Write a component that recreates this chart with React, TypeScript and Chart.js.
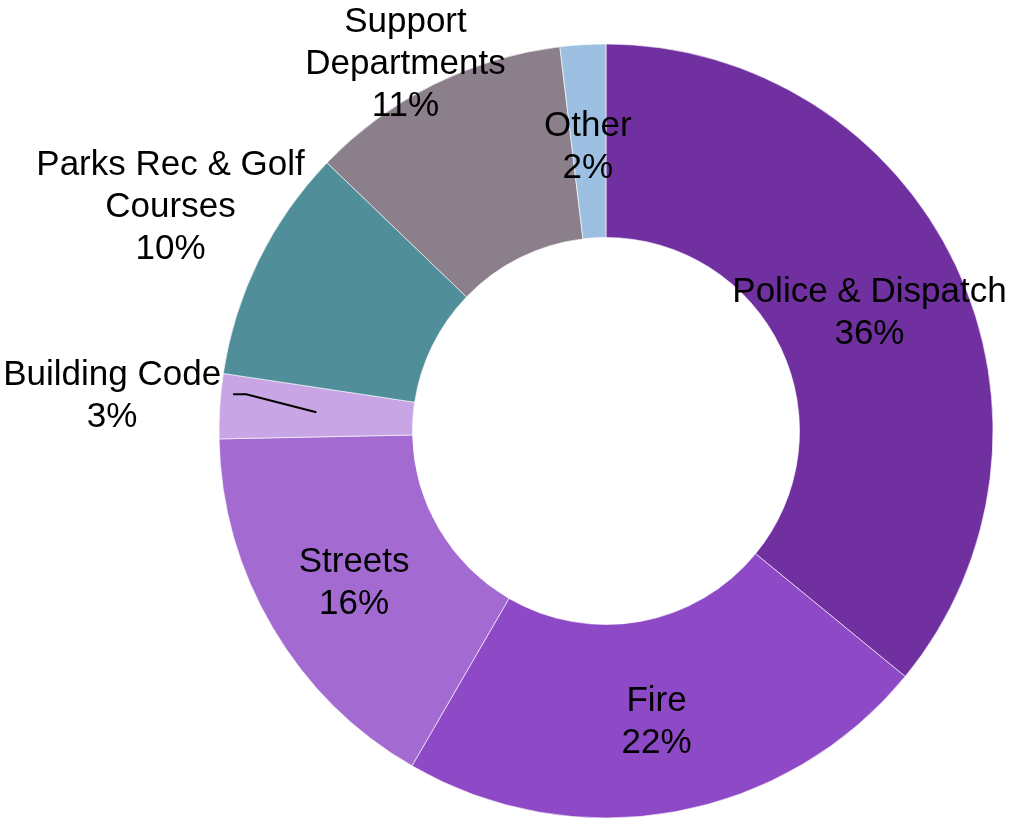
import React, { useEffect, useRef } from "react";
import { Chart, registerables } from "chart.js";

Chart.register(...registerables);

const categories = [
  "Police & Dispatch",
  "Fire",
  "Streets",
  "Building Code",
  "Parks Rec & Golf Courses",
  "Support Departments",
  "Other",
];
const shares = [35.9, 22.4, 16.3, 2.7, 9.8, 10.9, 1.9];
const labelLines = [
  ["Police & Dispatch"],
  ["Fire"],
  ["Streets"],
  ["Building Code"],
  ["Parks Rec & Golf", "Courses"],
  ["Support", "Departments"],
  ["Other"],
];
const sliceColors = [
  "#7030A0",
  "#8E49C6",
  "#A36BD1",
  "#C8A5E4",
  "#508F99",
  "#8B7F8C",
  "#9DBFE2",
];

// label placement: radius as fraction of outer radius, angle shift (deg), leader line
const labelRadius = [0.75, 0.755, 0.755, 1.28, 1.27, 1.09, 0.745];
const labelShiftDeg = [0.5, 0.3, 0.1, 0.8, 1.4, -1.9, -0.2];
const labelLeader = [false, false, false, true, false, false, false];

const FONT = '35px "Liberation Sans", Arial, sans-serif';
const LINE_H = 42;
const Y_NUDGE = 4;

const labelPlugin = {
  id: "sliceLabels",
  afterDatasetsDraw(chart: any) {
    const ctx = chart.ctx;
    const meta = chart.getDatasetMeta(0);
    const data = chart.data.datasets[0].data as number[];
    const total = data.reduce((a, b) => a + b, 0);
    ctx.save();
    ctx.font = FONT;
    ctx.fillStyle = "#000";
    ctx.textAlign = "center";
    ctx.textBaseline = "middle";
    meta.data.forEach((arc: any, i: number) => {
      const { x, y, startAngle, endAngle, outerRadius, innerRadius } = arc.getProps(
        ["x", "y", "startAngle", "endAngle", "outerRadius", "innerRadius"],
        true
      );
      const mid = (startAngle + endAngle) / 2;
      const ang = mid + (labelShiftDeg[i] * Math.PI) / 180;
      const r = outerRadius * labelRadius[i];
      const cx = x + Math.cos(ang) * r;
      const cy = y + Math.sin(ang) * r + Y_NUDGE;
      const lines = [...labelLines[i], Math.round((data[i] / total) * 100) + "%"];
      const h = lines.length * LINE_H;
      lines.forEach((t, k) => {
        ctx.fillText(t, cx, cy - h / 2 + LINE_H / 2 + k * LINE_H);
      });
      if (labelLeader[i]) {
        const w = Math.max(...lines.map((t) => ctx.measureText(t).width));
        const sx = x + Math.cos(mid) * (outerRadius + innerRadius) / 2;
        const sy = y + Math.sin(mid) * (outerRadius + innerRadius) / 2;
        const ex = cx + w / 2 + 12;
        const ey = cy - 2;
        ctx.beginPath();
        ctx.strokeStyle = "#000";
        ctx.lineWidth = 2;
        ctx.moveTo(ex, ey);
        ctx.lineTo(ex + 13, ey);
        ctx.lineTo(sx, sy);
        ctx.stroke();
      }
    });
    ctx.restore();
  },
};

export default function App() {
  const ref = useRef<HTMLCanvasElement | null>(null);
  useEffect(() => {
    if (!ref.current) return;
    const chart = new Chart(ref.current, {
      type: "doughnut",
      data: {
        labels: categories,
        datasets: [
          {
            data: shares,
            backgroundColor: sliceColors,
            borderColor: "rgba(255,255,255,0.6)",
            borderWidth: 1,
            hoverOffset: 0,
          },
        ],
      },
      options: {
        animation: false,
        responsive: false,
        maintainAspectRatio: false,
        cutout: "50%",
        layout: { padding: { left: 218.5, right: 15.5, top: 43.5, bottom: 2.5 } },
        plugins: {
          legend: { display: false },
          tooltip: { enabled: false },
        },
      },
      plugins: [labelPlugin],
    });
    return () => chart.destroy();
  }, []);
  return (
    <div style={{ position: "fixed", left: 0, top: 0, width: 1009, height: 821, background: "#fff" }}>
      <canvas ref={ref} width={1009} height={821} style={{ width: 1009, height: 821 }} />
    </div>
  );
}
